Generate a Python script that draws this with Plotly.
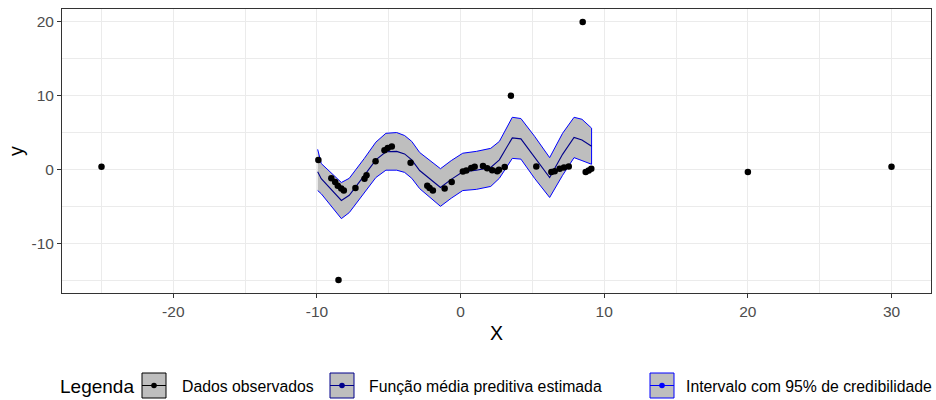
import plotly.graph_objects as go

# ---------------- data ----------------
obs_x = [-9.9, -9.0, -8.73, -8.55, -8.31, -8.13, -7.32, -6.69, -6.55, -5.92, -5.3, -5.07, -4.79,
         -3.48, -2.32, -2.16, -1.93, -1.11, -0.62, 0.16, 0.4, 0.74, 0.98, 1.56, 1.85, 2.2, 2.55,
         2.67, 3.07, 5.27, 6.32, 6.55, 6.9, 7.2, 7.53, 8.71, 8.92, 9.1,
         -25, -8.5, 3.5, 8.5, 20, 30]
obs_y = [1.27, -1.2, -1.7, -2.2, -2.6, -2.86, -2.5, -1.27, -0.8, 1.1, 2.6, 2.9, 3.1,
         0.9, -2.2, -2.5, -2.86, -2.6, -1.7, -0.27, -0.14, 0.18, 0.36, 0.45, 0.15, -0.1, -0.25,
         -0.04, 0.32, 0.4, -0.36, -0.23, 0.09, 0.27, 0.41, -0.36, -0.14, 0.09,
         0.35, -15.0, 10.0, 20.0, -0.35, 0.35]

band_x = [-9.95, -9.7, -8.3, -7.75, -6.7, -5.9, -5.2, -4.45, -3.9, -3.4, -2.85, -2.15, -1.4,
          -0.65, 0.15, 1.1, 2.1, 2.7, 3.6, 4.2, 5.15, 6.2, 7.1, 7.9, 8.45, 9.12]
upper = [2.72, 0.8, -1.77, -1.2, 1.5, 3.7, 4.9, 5.0, 4.6, 3.8, 2.3, 1.2, 0.1,
         1.2, 2.2, 2.45, 2.86, 3.8, 7.07, 6.9, 4.5, 1.6, 4.9, 7.07, 6.8, 5.6]
lower = [-2.86, -3.3, -6.67, -5.85, -3.1, -1.1, -0.1, -0.1, -0.4, -1.2, -2.6, -3.7, -5.0,
         -3.9, -2.86, -2.7, -2.3, -1.2, 1.5, 1.4, -1.2, -3.8, -0.8, 1.6, 1.2, 0.7]
mean = [-0.3, -1.25, -4.2, -3.5, -0.8, 1.3, 2.4, 2.45, 2.1, 1.3, -0.15, -1.25, -2.45,
        -1.35, -0.33, -0.1, 0.28, 1.3, 4.28, 4.15, 1.65, -1.1, 2.05, 4.33, 4.0, 3.15]

x_ticks = [-20, -10, 0, 10, 20, 30]
x_tick_text = ["-20", "-10", "0", "10", "20", "30"]
y_ticks = [-10, 0, 10, 20]
y_tick_text = ["-10", "0", "10", "20"]
legend_title = "Legenda"
legend_labels = ["Dados observados", "Função média preditiva estimada",
                 "Intervalo com 95% de credibilidade"]
legend_colors = ["#000000", "#00008B", "#0000FF"]

FONT = "Liberation Sans, Arial, sans-serif"
W, H = 936, 400
L, R, T, B = 62, 5, 9, 107

fig = go.Figure()

fig.add_trace(go.Scatter(
    x=band_x + band_x[::-1], y=upper + lower[::-1],
    fill="toself", fillcolor="#BEBEBE", mode="lines",
    line=dict(color="#0000FF", width=1), hoverinfo="skip", showlegend=False))
fig.add_trace(go.Scatter(
    x=band_x, y=mean, mode="lines",
    line=dict(color="#00008B", width=1.1), showlegend=False))
fig.add_trace(go.Scatter(
    x=obs_x, y=obs_y, mode="markers",
    marker=dict(color="black", size=6.5), showlegend=False))

axis_common = dict(
    showline=True, mirror=True, linecolor="#333333", linewidth=1,
    showgrid=True, gridcolor="#EBEBEB", gridwidth=1.1,
    zeroline=False, ticks="outside", ticklen=4, tickwidth=1, tickcolor="#333333",
    tickfont=dict(family=FONT, size=15.5, color="#4D4D4D"),
)
fig.update_xaxes(range=[-27.75, 32.75], tickvals=x_ticks, ticktext=x_tick_text,
                 minor=dict(dtick=5, tick0=0, showgrid=True, gridcolor="#EBEBEB", gridwidth=0.6),
                 **axis_common)
fig.update_yaxes(range=[-16.75, 21.75], tickvals=y_ticks, ticktext=y_tick_text,
                 minor=dict(dtick=5, tick0=0, showgrid=True, gridcolor="#EBEBEB", gridwidth=0.6),
                 **axis_common)

pw = W - L - R
ph = H - T - B


def fx(px):
    return (px - L) / pw


def fy(py):
    return (H - B - py) / ph


annotations = [
    dict(x=fx(496.5), y=fy(333), text="X", showarrow=False, xref="paper", yref="paper",
         xanchor="center", yanchor="middle", font=dict(family=FONT, size=19.5, color="black")),
    dict(x=fx(16), y=fy(151), text="y", showarrow=False, xref="paper", yref="paper",
         textangle=-90, xanchor="center", yanchor="middle",
         font=dict(family=FONT, size=19.5, color="black")),
    dict(x=fx(58), y=fy(386), text=legend_title, showarrow=False, xref="paper", yref="paper",
         xanchor="left", yanchor="middle", font=dict(family=FONT, size=19, color="black")),
]

shapes = []
key_left = [142, 330, 650]
text_left = [180, 367, 684]
ky0, ky1 = 373, 398
kw = 24
for kl, tl, col, lab in zip(key_left, text_left, legend_colors, legend_labels):
    shapes.append(dict(type="rect", xref="paper", yref="paper",
                       x0=fx(kl), x1=fx(kl + kw), y0=fy(ky1), y1=fy(ky0),
                       fillcolor="#BEBEBE", line=dict(color=col, width=1)))
    cy = (ky0 + ky1) / 2
    shapes.append(dict(type="line", xref="paper", yref="paper",
                       x0=fx(kl), x1=fx(kl + kw), y0=fy(cy), y1=fy(cy),
                       line=dict(color=col, width=1)))
    cx = kl + kw / 2
    shapes.append(dict(type="circle", xref="paper", yref="paper",
                       x0=fx(cx - 2.8), x1=fx(cx + 2.8), y0=fy(cy + 2.8), y1=fy(cy - 2.8),
                       fillcolor=col, line=dict(color=col, width=0)))
    annotations.append(dict(x=fx(tl), y=fy(386), text=lab, showarrow=False,
                            xref="paper", yref="paper", xanchor="left", yanchor="middle",
                            font=dict(family=FONT, size=15.8, color="black")))

fig.update_layout(
    width=W, height=H, margin=dict(l=L, r=R, t=T, b=B),
    paper_bgcolor="white", plot_bgcolor="white",
    showlegend=False, annotations=annotations, shapes=shapes,
)

fig.write_html("out.html")
